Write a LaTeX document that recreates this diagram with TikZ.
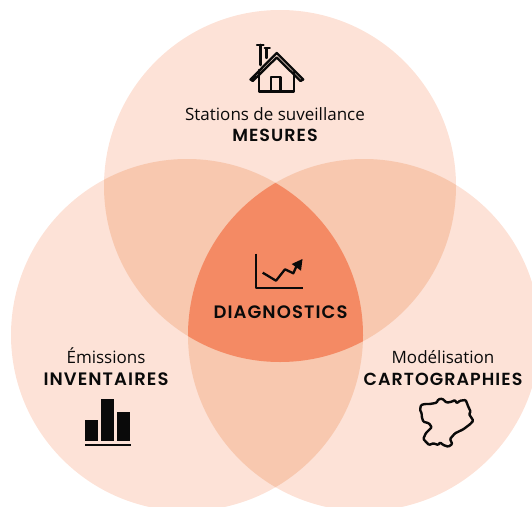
\documentclass[tikz,border=0pt]{standalone}
\usepackage{fontspec}
\setmainfont{Open Sans}
\newfontfamily\headfont[BoldFont={Poppins SemiBold},LetterSpace=6]{Poppins}
\definecolor{lightc}{HTML}{FDE2D7}
\definecolor{midc}{HTML}{F8C8AF}
\definecolor{corec}{HTML}{F48A64}
\definecolor{ink}{HTML}{0A0A0A}
\tikzset{
  labeltext/.style={font=\fontsize{17}{20}\selectfont,text=ink,inner sep=0pt,anchor=base},
  labelbold/.style={font=\headfont\fontsize{17.5}{20}\selectfont\bfseries,text=ink,inner sep=0pt,anchor=base},
  labelwide/.style={labelbold,font=\headfont\fontsize{18}{20}\selectfont\bfseries}
}
\tikzset{iconline/.style={draw=ink,line width=2.3pt,line join=round,line cap=round}}
\begin{document}
\begin{tikzpicture}[x=1pt,y=-1pt]
\useasboundingbox (0,0) rectangle (532,506);
\clip (0,0) rectangle (532,506);
\def\ctop{(280,186) circle [radius=176]}
\def\cleft{(187,335) circle [radius=176]}
\def\cright{(364,335) circle [radius=176]}
\fill[lightc] \ctop;
\fill[lightc] \cleft;
\fill[lightc] \cright;
\begin{scope}\clip \ctop; \fill[midc] \cleft; \fill[midc] \cright;\end{scope}
\begin{scope}\clip \cleft; \fill[midc] \cright;\end{scope}
\begin{scope}\clip \ctop; \clip \cleft; \fill[corec] \cright;\end{scope}
% texts
\node[labeltext] (stations) at (275,120) {Stations de suveillance};
\node[labelbold] (mesures) at (275,141.3) {MESURES};
\node[labelwide] (diag) at (280.5,318.3) {DIAGNOSTICS};
\node[labeltext] (emis) at (106,363.3) {Émissions};
\node[labelwide] (inv) at (106,385.7) {INVENTAIRES};
\node[labeltext] (model) at (443,363.3) {Modélisation};
\node[labelbold] (carto) at (443,385.7) {CARTOGRAPHIES};
% house
\draw[iconline] (259.3,70) -- (259.3,91.5) -- (294,91.5) -- (294,72);
\draw[iconline] (270.8,91.5) -- (270.8,77.2) -- (280.6,77.2) -- (280.6,91.5);
\draw[iconline] (250.5,79.5) -- (276.7,53) -- (303.2,79.5) -- (300.5,81) -- (276.7,57.5) -- (252.8,81) -- cycle;
\draw[iconline] (257,45) -- (263.5,45);
\draw[iconline,line width=2.8pt] (260.5,45) -- (260.5,65);
\draw[iconline] (266.5,48.5) -- (266.5,58);
\draw[iconline,line width=1.6pt] (264.5,48) -- (270,48);
% chart
\draw[iconline,line cap=butt] (255.8,253.5) -- (255.8,288.2) -- (302.5,288.2);
\draw[iconline,line cap=butt] (262.7,272.7) -- (276,280.7) -- (285,269.3) -- (293.3,273.3) -- (297,265);
\fill[ink] (291.7,264) -- (302.5,259) -- (301,270.7) -- cycle;
% bars
\fill[ink] (85,420) rectangle (98,441);
\fill[ink] (101,399) rectangle (114,441);
\fill[ink] (117,412) rectangle (130,441);
\fill[ink] (85,443.5) rectangle (131,445.8);
% map
\draw[iconline,line width=2.4pt,rounded corners=1pt] (421,405) -- (425,404) -- (430,404) -- (436.7,402.7) -- (438.3,399.3) -- (442.3,398.7) -- (446.7,402.7) -- (451.7,401.7) -- (455,400) -- (456.7,403.3) -- (460,400.7) -- (465.7,400) -- (468.3,406.7) -- (470.7,411.7) -- (469,414) -- (473.3,420.7) -- (470,424.3) -- (463.3,429.3) -- (455,433.3) -- (450,439) -- (452.3,444) -- (448.3,446.7) -- (443.3,445) -- (440,442.3) -- (438.3,445) -- (433.3,443.3) -- (429,445) -- (423.3,439) -- (425.7,433.3) -- (431.7,427.3) -- (429,423.3) -- (423.3,421.7) -- (421.7,416.7) -- (421.7,413.3) -- (420,410) -- cycle;
\end{tikzpicture}
\end{document}
